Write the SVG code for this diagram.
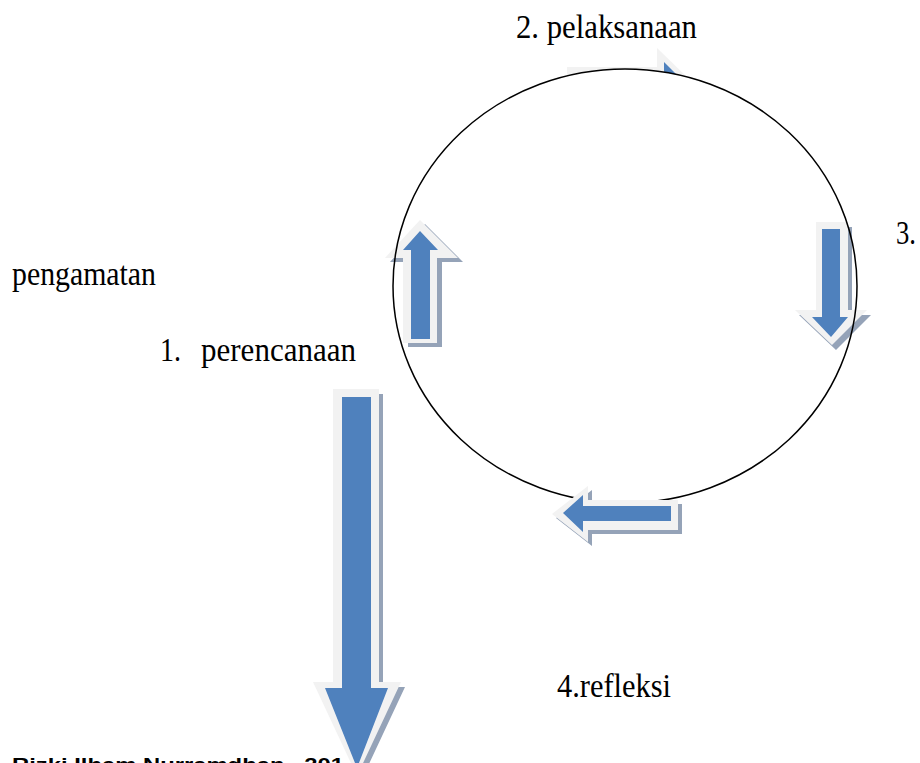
<svg xmlns="http://www.w3.org/2000/svg" width="920" height="763" viewBox="0 0 920 763">
<style>
.lt{fill:#f2f2f2}
.sh{fill:#95a3b8}
.bl{fill:#4f81bd}
</style>
<rect width="920" height="763" fill="#fff"/>
<g id="labels" font-family="Liberation Serif, DejaVu Serif, serif" font-size="34" fill="#000">
<text x="516" y="38" textLength="181" lengthAdjust="spacingAndGlyphs">2. pelaksanaan</text>
<text x="896" y="244" textLength="20" lengthAdjust="spacingAndGlyphs">3.</text>
<text x="12" y="285" textLength="144" lengthAdjust="spacingAndGlyphs">pengamatan</text>
<text x="160" y="361" textLength="21" lengthAdjust="spacingAndGlyphs">1.</text>
<text x="201" y="361" textLength="155" lengthAdjust="spacingAndGlyphs">perencanaan</text>
<text x="557" y="697" textLength="114" lengthAdjust="spacingAndGlyphs">4.refleksi</text>
<text x="12" y="771" font-family="Liberation Sans, Arial, sans-serif" font-size="19" font-weight="bold" textLength="332" lengthAdjust="spacingAndGlyphs">Rizki Ilham Nurramdhan , 201</text>
</g>
<g id="connectors">
<g id="arrow-top">
<polygon class="lt" points="567,67 657,67 657,48 692,82 657,116 657,97 567,97"/>
<polygon class="bl" points="575,75 664,75 664,62 684,82 664,102 664,89 575,89"/>
</g>
<ellipse id="cycle-fill" cx="625" cy="286" rx="232" ry="217" fill="#fff"/>
<g id="arrow-up">
<polygon class="sh" transform="translate(5,4)" points="420,220 458,258 437,258 437,343 403,343 403,258 385,258"/>
<polygon class="lt" points="420,220 458,258 437,258 437,343 403,343 403,258 385,258"/>
<polygon class="bl" points="420,231 438,250 430,250 430,339 411,339 411,250 403,250"/>
</g>
<g id="arrow-down">
<polygon class="sh" transform="translate(4,5)" points="816,222 848,222 848,310 867,310 832,345 795,310 816,310"/>
<polygon class="lt" points="816,222 848,222 848,310 867,310 832,345 795,310 816,310"/>
<polygon class="bl" points="822,229 840,229 840,317 848,317 831,337 812,317 822,317"/>
</g>
<ellipse id="cycle" cx="625" cy="286" rx="232" ry="217" fill="none" stroke="#000" stroke-width="1.5"/>
<g id="arrow-left">
<polygon class="sh" transform="translate(4,4)" points="552,514 588,486 588,500 678,500 678,530 588,530 588,542"/>
<polygon class="lt" points="552,514 588,486 588,500 678,500 678,530 588,530 588,542"/>
<polygon class="bl" points="563,513 583,495 583,506 671,506 671,521 583,521 583,532"/>
</g>
<g id="arrow-long">
<polygon class="sh" transform="translate(4,5)" points="333,389 379,389 379,682 401,682 357,776 313,682 333,682"/>
<polygon class="lt" points="333,389 379,389 379,682 401,682 357,776 313,682 333,682"/>
<polygon class="bl" points="342,397 371,397 371,688 388,688 357,768 325,688 342,688"/>
</g>
</g>
</svg>
